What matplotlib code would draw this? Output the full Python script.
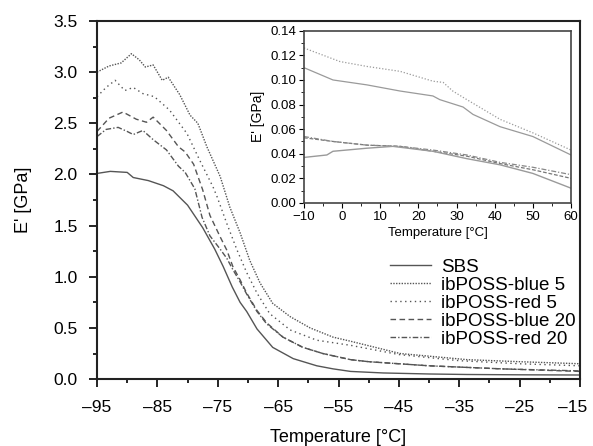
import numpy as np
import matplotlib.pyplot as plt
import matplotlib.transforms as mtransforms
from matplotlib.ticker import MultipleLocator

plt.rcParams['font.family'] = ['Liberation Sans', 'DejaVu Sans']

# main chart, E' [GPa] vs temperature
t_sbs = [-95, -92.8, -90, -89, -86.5, -84, -82.4, -80, -77.5, -75.5, -74.1, -72.6, -71.3, -70.2,
         -68.5, -65.9, -62.5, -58.6, -55.9, -53, -47.6, -40, -33.7, -25, -15]
e_sbs = [2.01, 2.03, 2.02, 1.97, 1.94, 1.89, 1.84, 1.70, 1.48, 1.27, 1.10, 0.90, 0.75, 0.66,
         0.49, 0.31, 0.20, 0.13, 0.10, 0.075, 0.06, 0.05, 0.045, 0.042, 0.04]

t_blue5 = [-95, -93, -91, -89.3, -88, -87, -85.7, -84.2, -83.2, -81.3, -79.6, -78.3, -76.8, -74.6,
           -73, -71.3, -69.7, -68, -65.9, -63, -59.7, -55.9, -53, -44.8, -33.7, -25, -15]
e_blue5 = [3.00, 3.06, 3.09, 3.18, 3.12, 3.05, 3.07, 2.92, 2.95, 2.78, 2.58, 2.50, 2.27, 1.98,
           1.68, 1.43, 1.16, 0.94, 0.74, 0.61, 0.50, 0.41, 0.37, 0.25, 0.19, 0.17, 0.15]

t_red5 = [-95, -93.5, -92, -90.4, -89, -87.4, -85.5, -83, -80.1, -78, -75.8, -75.1, -73.5, -71.8,
          -70.2, -68.5, -66.4, -63, -58.6, -53, -45, -35, -25, -15]
e_red5 = [2.76, 2.85, 2.92, 2.82, 2.85, 2.79, 2.76, 2.63, 2.40, 2.14, 1.88, 1.78, 1.52, 1.26,
          1.04, 0.84, 0.64, 0.48, 0.38, 0.33, 0.24, 0.18, 0.15, 0.13]

t_blue20 = [-95, -93, -90.7, -88.5, -86.8, -85.7, -83.5, -81.5, -80.4, -79, -77.5, -76.3, -74.6,
            -73.5, -72.5, -71.3, -70.2, -68.5, -66.9, -64.2, -60.9, -57.6, -53, -50, -40, -28, -15]
e_blue20 = [2.42, 2.55, 2.61, 2.54, 2.51, 2.56, 2.43, 2.27, 2.22, 2.10, 1.85, 1.60, 1.39,
            1.26, 1.10, 0.97, 0.84, 0.67, 0.55, 0.41, 0.31, 0.25, 0.19, 0.17, 0.13, 0.10, 0.075]

t_red20 = [-95, -93.5, -91.5, -90, -89, -87.4, -85.7, -83.5, -81.5, -80.4, -78.8, -77.6, -76.3,
           -74.6, -73.5, -72.5, -71.3, -70.2, -68.5, -66.9, -64.2, -60.9, -57.6, -53, -50, -40, -28, -15]
e_red20 = [2.37, 2.44, 2.46, 2.42, 2.39, 2.43, 2.34, 2.24, 2.08, 2.02, 1.86, 1.58, 1.40,
           1.27, 1.18, 1.07, 0.95, 0.83, 0.66, 0.54, 0.41, 0.31, 0.25, 0.19, 0.17, 0.13, 0.10, 0.08]

labels = ['SBS', 'ibPOSS-blue 5', 'ibPOSS-red 5', 'ibPOSS-blue 20', 'ibPOSS-red 20']
xticks_main = [-95, -85, -75, -65, -55, -45, -35, -25, -15]
yticks_main = [0, 0.5, 1.0, 1.5, 2.0, 2.5, 3.0, 3.5]

# inset, -10 .. 60 °C
ti_up = [-10, -0.6, 6.5, 15.2, 23.8, 26.5, 29, 32.7, 41.4, 50, 60]
ei_up1 = [0.126, 0.115, 0.111, 0.107, 0.099, 0.098, 0.091, 0.084, 0.068, 0.057, 0.043]
ti_up2 = [-10, -2.4, 6.5, 15.2, 23.8, 25.6, 31.7, 34.3, 41.4, 50, 60]
ei_up2 = [0.110, 0.100, 0.096, 0.091, 0.087, 0.084, 0.078, 0.072, 0.062, 0.054, 0.039]
ti_lo = [-10, -2.4, 6.5, 15.2, 23.8, 32.7, 41.4, 50, 60]
ei_dash = [0.053, 0.050, 0.047, 0.046, 0.042, 0.038, 0.032, 0.027, 0.020]
ei_dashdot = [0.054, 0.050, 0.047, 0.046, 0.043, 0.039, 0.033, 0.029, 0.023]
ti_sbs = [-10, -4, -2.4, 6.5, 13.3, 23.8, 32.7, 41.4, 50, 60]
ei_sbs = [0.037, 0.039, 0.042, 0.0445, 0.046, 0.042, 0.036, 0.031, 0.024, 0.012]
xticks_ins = [-10, 0, 10, 20, 30, 40, 50, 60]
yticks_ins = [0, 0.02, 0.04, 0.06, 0.08, 0.10, 0.12, 0.14]

col = '#555555'
fig = plt.figure(figsize=(5.93, 4.46), dpi=100)
ax = fig.add_axes([0.1636, 0.150, 0.8145, 0.803])

ax.plot(t_sbs, e_sbs, color=col, lw=1.0, ls='-', label=labels[0])
ax.plot(t_blue5, e_blue5, color=col, lw=1.0, ls=(0, (1, 1)), label=labels[1])
ax.plot(t_red5, e_red5, color=col, lw=1.0, ls=(0, (1, 2.5)), label=labels[2])
ax.plot(t_blue20, e_blue20, color=col, lw=1.0, ls=(0, (4, 2.5)), label=labels[3])
ax.plot(t_red20, e_red20, color=col, lw=1.0, ls=(0, (4, 1.5, 1, 1.5)), label=labels[4])

ax.set_xlim(-95, -15)
ax.set_ylim(0, 3.5)
ax.set_xticks(xticks_main)
ax.set_xticklabels([str(v).replace('-', '\u2013') for v in xticks_main])
ax.set_yticks(yticks_main)
ax.set_yticklabels(['%.1f' % v for v in yticks_main])
ax.xaxis.set_minor_locator(MultipleLocator(5))
ax.yaxis.set_minor_locator(MultipleLocator(0.25))
ax.tick_params(which='both', direction='out', top=False, right=False, labelsize=12.5, width=1.2)
ax.tick_params(which='major', length=6)
ax.tick_params(which='minor', length=3)
ax.tick_params(axis='x', which='major', pad=9)
ax.tick_params(axis='y', which='major', pad=8)
# last x label sits a little left of its tick, as in the original
lbl = ax.get_xticklabels()[-1]
lbl.set_transform(lbl.get_transform() + mtransforms.ScaledTranslation(-0.07, 0, fig.dpi_scale_trans))
for s in ax.spines.values():
    s.set_linewidth(1.5)
    s.set_color('#222222')
ax.set_xlabel('Temperature [°C]', fontsize=13, labelpad=10)
ax.set_ylabel("E' [GPa]", fontsize=13, labelpad=15)

ax.legend(loc='lower left', bbox_to_anchor=(0.658, 0.22), bbox_transform=fig.transFigure,
          frameon=False, fontsize=13.5, handlelength=2.2, handletextpad=0.5,
          labelspacing=0.05, borderpad=0, borderaxespad=0)

# inset
ins = fig.add_axes([0.5126, 0.545, 0.4503, 0.386])
gi = '#9a9a9a'
ins.plot(ti_up, ei_up1, color=gi, lw=0.9, ls=(0, (1, 1.5)))
ins.plot(ti_up2, ei_up2, color=gi, lw=0.9, ls='-')
ins.plot(ti_lo, ei_dash, color='#777777', lw=0.9, ls=(0, (3, 1.5)))
ins.plot(ti_lo, ei_dashdot, color='#888888', lw=0.9, ls=(0, (4, 1.5, 1, 1.5)))
ins.plot(ti_sbs, ei_sbs, color=gi, lw=1.0, ls='-')
ins.set_xlim(-10, 60)
ins.set_ylim(0, 0.14)
ins.set_xticks(xticks_ins)
ins.set_xticklabels([str(v).replace('-', '\u2212') for v in xticks_ins])
ins.set_yticks(yticks_ins)
ins.set_yticklabels(['%.2f' % v for v in yticks_ins])
ins.xaxis.set_minor_locator(MultipleLocator(5))
ins.yaxis.set_minor_locator(MultipleLocator(0.01))
ins.tick_params(which='both', direction='out', top=False, right=False, labelsize=9.5, pad=2)
ins.tick_params(which='major', length=3.5)
ins.tick_params(which='minor', length=2)
for s in ins.spines.values():
    s.set_linewidth(1.2)
    s.set_color('#444444')
ins.set_xlabel('Temperature [°C]', fontsize=9.5, labelpad=3)
ins.set_ylabel("E' [GPa]", fontsize=10, labelpad=4)

fig.savefig('out.png', dpi=100)
